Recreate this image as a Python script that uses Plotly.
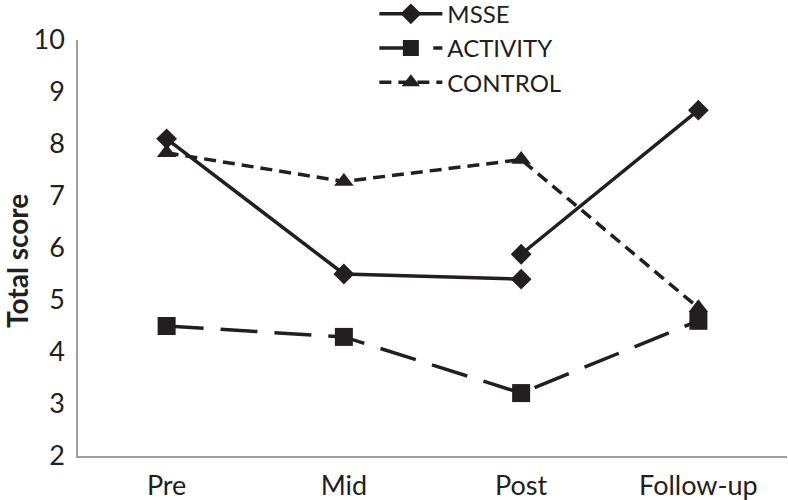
import plotly.graph_objects as go

categories = ["Pre", "Mid", "Post", "Follow-up"]
# MSSE series has a break after Post; restarts at Post (5.9) and goes to Follow-up
msse_x = ["Pre", "Mid", "Post", None, "Post", "Follow-up"]
msse_y = [8.1, 5.5, 5.4, None, 5.88, 8.65]
activity = [4.5, 4.29, 3.21, 4.6]
control = [7.83, 7.28, 7.7, 4.85]
y_ticks = [2, 3, 4, 5, 6, 7, 8, 9, 10]

ink = "#231f20"
font_family = "Lato, 'Open Sans', sans-serif"

fig = go.Figure()
fig.add_trace(go.Scatter(
    x=msse_x, y=msse_y, name="MSSE", mode="lines+markers",
    connectgaps=False,
    line=dict(color=ink, width=3.5, dash="solid"),
    marker=dict(symbol="diamond", size=16, color=ink),
))
fig.add_trace(go.Scatter(
    x=categories, y=activity, name="ACTIVITY", mode="lines+markers",
    line=dict(color=ink, width=3.5, dash="37px,17px"),
    marker=dict(symbol="square", size=18, color=ink),
))
fig.add_trace(go.Scatter(
    x=categories, y=control, name="CONTROL", mode="lines+markers",
    line=dict(color=ink, width=3.5, dash="12px,7px"),
    marker=dict(symbol="triangle-up", size=17, color=ink),
))

fig.update_layout(
    width=788, height=500,
    margin=dict(l=78, r=1, t=40, b=44, autoexpand=False),
    paper_bgcolor="white", plot_bgcolor="white",
    font=dict(family=font_family, size=27, color=ink),
    showlegend=True,
    legend=dict(
        x=0.418, y=1.116, xanchor="left", yanchor="top",
        orientation="v", itemwidth=63, bgcolor="rgba(0,0,0,0)",
        font=dict(size=24, color=ink), tracegroupgap=0,
    ),
    xaxis=dict(
        type="category", categoryorder="array", categoryarray=categories,
        range=[-0.5, 3.5], showgrid=False, zeroline=False,
        showline=True, linecolor="#a0a0a0", linewidth=1.5,
        ticks="", ticklabelstandoff=5,
        tickfont=dict(size=27, color=ink),
    ),
    yaxis=dict(
        range=[2, 10], tickvals=y_ticks, showgrid=False, zeroline=False,
        showline=True, linecolor="#a0a0a0", linewidth=1.5,
        ticks="", ticklabelstandoff=6,
        tickfont=dict(size=27, color=ink),
    ),
    annotations=[dict(
        text="<b>Total score</b>", xref="paper", yref="paper",
        x=-0.0860, y=0.469, xanchor="center", yanchor="middle",
        textangle=-90, showarrow=False,
        font=dict(size=28, color=ink),
    )],
)

fig.write_html(
    "out.html",
    config={"displayModeBar": False},
    post_script="document.body.style.margin='0';",
)
